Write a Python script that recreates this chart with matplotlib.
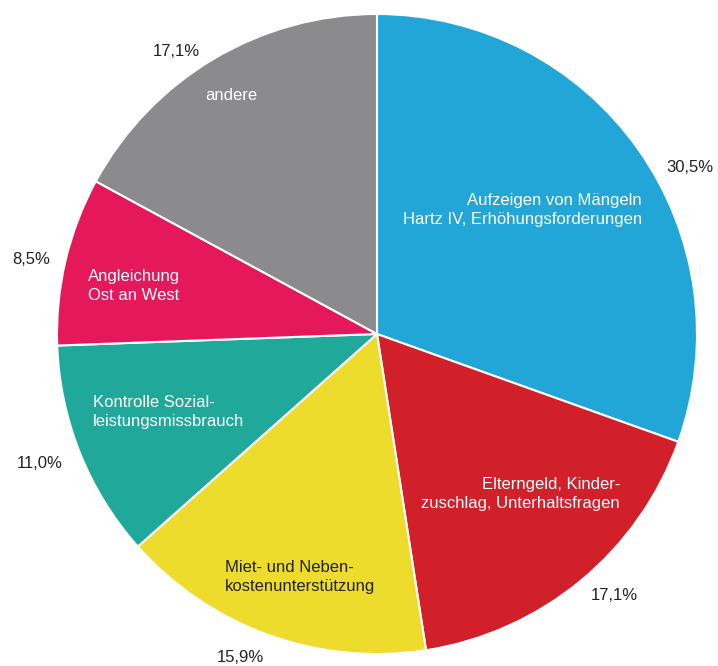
import matplotlib
matplotlib.use("Agg")
import matplotlib.pyplot as plt

categories = [
    "Aufzeigen von Mängeln\nHartz IV, Erhöhungsforderungen",
    "Elterngeld, Kinder-\nzuschlag, Unterhaltsfragen",
    "Miet- und Neben-\nkostenunterstützung",
    "Kontrolle Sozial-\nleistungsmissbrauch",
    "Angleichung\nOst an West",
    "andere",
]
shares = [30.5, 17.1, 15.9, 11.0, 8.5, 17.1]
share_labels = ["30,5%", "17,1%", "15,9%", "11,0%", "8,5%", "17,1%"]
colors = ["#22A6D7", "#D2202A", "#EEDC2C", "#20A99A", "#E6185C", "#8B8A8C"]
text_colors = ["white", "white", "#222222", "white", "white", "white"]

W, H = 718, 666
fig = plt.figure(figsize=(W / 100, H / 100), dpi=100)
ax = fig.add_axes([0, 0, 1, 1])

font = ["Liberation Sans", "DejaVu Sans"]

cx, cy, r = 377, H - 334, 320
ax.pie(shares, colors=colors, startangle=90, counterclock=False,
       center=(cx, cy), radius=r, frame=True,
       wedgeprops=dict(edgecolor="white", linewidth=1.5))
ax.set_xlim(0, W)
ax.set_ylim(0, H)
ax.set_aspect("equal")
ax.axis("off")

# category names inside the wedges (pixel positions, y from top)
name_pos = [(642, 210, "right"), (620, 494, "right"), (225, 577, "left"),
            (93, 412, "left"), (88, 286, "left"), (231, 96, "center")]
for name, (px, py, ha), tc in zip(categories, name_pos, text_colors):
    ax.text(px, H - py, name, ha=ha, va="center", color=tc,
            fontsize=12, family=font, linespacing=1.38)

# percentages outside the pie
pct_pos = [(690, 168), (614, 595), (240, 657), (40, 463), (31, 259), (176, 52)]
for lab, (px, py) in zip(share_labels, pct_pos):
    ax.text(px, H - py, lab, ha="center", va="center", color="#222222",
            fontsize=12, family=font)

fig.savefig("out.png", dpi=100, facecolor="white")
